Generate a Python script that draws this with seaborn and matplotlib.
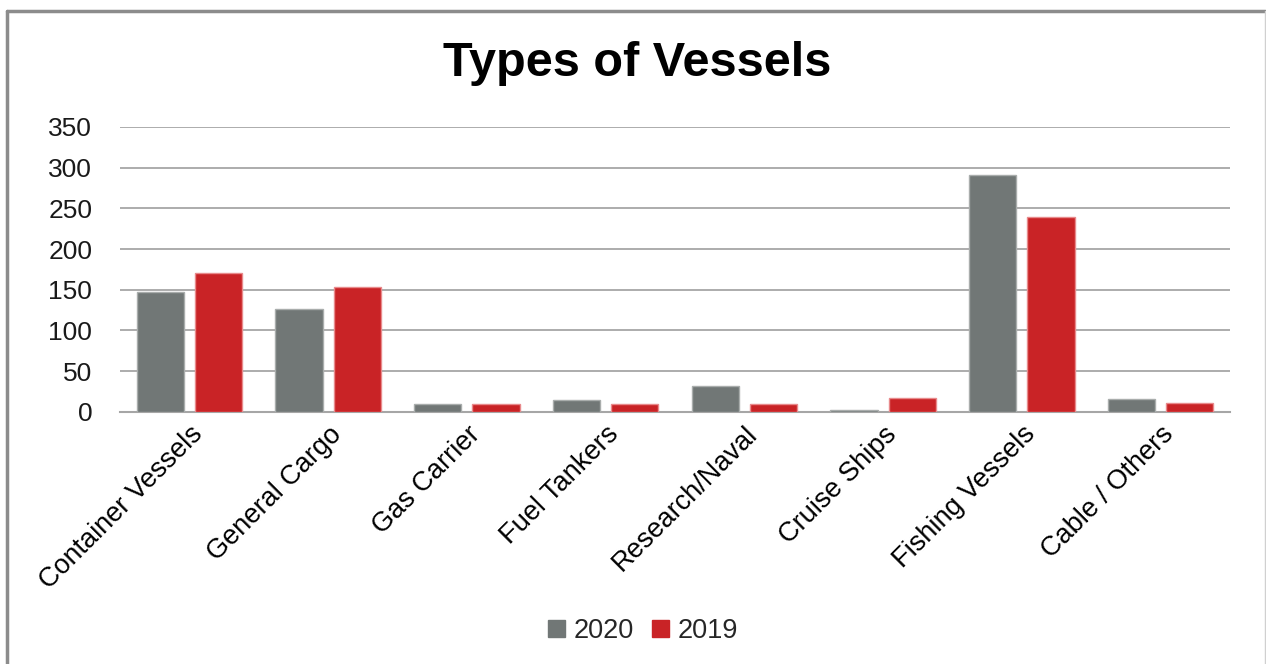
import matplotlib
matplotlib.use("Agg")
import matplotlib.pyplot as plt
from matplotlib.lines import Line2D
from matplotlib.patches import Patch
import seaborn as sns
import pandas as pd

# Vessel counts per type
categories = ["Container Vessels", "General Cargo", "Gas Carrier", "Fuel Tankers",
              "Research/Naval", "Cruise Ships", "Fishing Vessels", "Cable / Others"]
values_2020 = [147, 126, 10, 14, 31, 2, 291, 16]
values_2019 = [170, 153, 10, 10, 10, 17, 239, 11]
years = ["2020", "2019"]

df = pd.DataFrame({
    "Type": categories * 2,
    "Count": values_2020 + values_2019,
    "Year": ["2020"] * len(categories) + ["2019"] * len(categories),
})

sns.set_theme(style="white")
plt.rcParams["font.family"] = ["Liberation Sans", "DejaVu Sans"]

GREY = "#717776"
RED = "#C92326"
palette = {"2020": GREY, "2019": RED}

fig = plt.figure(figsize=(12.66, 6.64), dpi=100)
ax = fig.add_axes([120 / 1266, 1 - 411.7 / 664, 1110 / 1266, (411.7 - 127) / 664])

sns.barplot(data=df, x="Type", y="Count", hue="Year", hue_order=years,
            palette=palette, width=0.84, gap=0.19, saturation=1,
            ax=ax, legend=False, zorder=3)

# light outlines on the bars
for bar, year_edge in zip(ax.patches, ["#A9ADAC"] * 8 + ["#E88A8C"] * 8):
    bar.set_edgecolor(year_edge)
    bar.set_linewidth(1.0)

ax.set_ylim(0, 350)
ax.set_yticks(range(0, 351, 50))
ax.set_xlim(-0.5, len(categories) - 0.5)
ax.yaxis.grid(True, color="#A6A6A6", linewidth=1.3, zorder=0)
ax.set_axisbelow(True)
for side in ["left", "right", "top"]:
    ax.spines[side].set_visible(False)
ax.spines["bottom"].set_color("#A6A6A6")
ax.spines["bottom"].set_linewidth(1.5)
ax.tick_params(axis="both", length=0, colors="#000000")
ax.tick_params(axis="y", pad=20, labelsize=19)
ax.tick_params(axis="x", pad=7)
ax.set_xlabel("")
ax.set_ylabel("")
ax.set_xticks(range(len(categories)))
ax.set_xticklabels(categories, rotation=45, ha="right", va="top",
                   rotation_mode="anchor", fontsize=19.5)
for lbl in ax.get_yticklabels():
    lbl.set_color("#1a1a1a")

fig.text(0.503, 0.905, "Types of Vessels", ha="center", va="center",
         fontsize=35, fontweight="bold", color="#000000")

handles = [Patch(facecolor=GREY, edgecolor=GREY), Patch(facecolor=RED, edgecolor=RED)]
fig.legend(handles, years, loc="center", bbox_to_anchor=(643 / 1266, 1 - 631 / 664),
           ncol=2, frameon=False, fontsize=19.5, handlelength=0.63, handleheight=0.63,
           handletextpad=0.3, columnspacing=0.7)

# chart frame
fig.add_artist(Line2D([7 / 1266, 7 / 1266], [0, 1 - 11 / 664], color="#8C8C8C",
                      linewidth=2.5, transform=fig.transFigure))
fig.add_artist(Line2D([7 / 1266, 1265 / 1266], [1 - 11 / 664, 1 - 11 / 664],
                      color="#8C8C8C", linewidth=2.5, transform=fig.transFigure))
fig.add_artist(Line2D([1265 / 1266, 1265 / 1266], [0, 1 - 11 / 664], color="#D0D0D0",
                      linewidth=1, transform=fig.transFigure))

fig.savefig("out.png", dpi=100, facecolor="white")
